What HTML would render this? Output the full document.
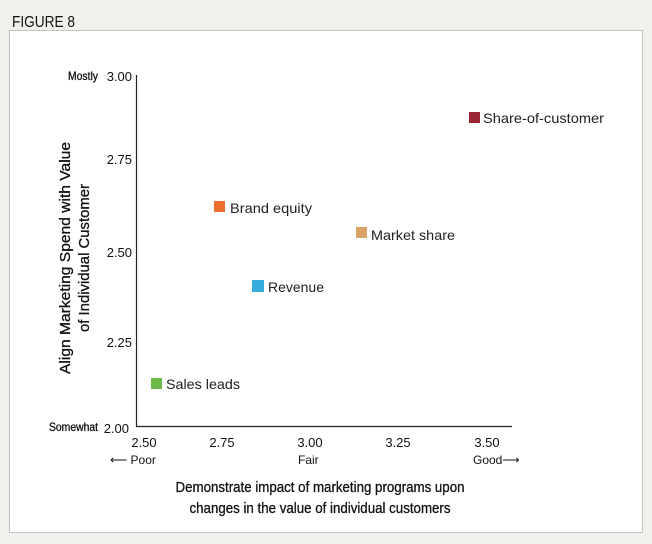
<!DOCTYPE html>
<html><head><style>
body{margin:0;background:#f1f0ec;}
svg{display:block}
</style></head><body>
<svg width="652" height="544" xmlns="http://www.w3.org/2000/svg" font-family="Liberation Sans, sans-serif">
<rect width="652" height="544" fill="#f1f0ec"/>
<text x="12" y="27" font-size="16" fill="#111" textLength="63" lengthAdjust="spacingAndGlyphs">FIGURE 8</text>
<rect x="9.5" y="30.5" width="633" height="502" fill="#fff" stroke="#c4c4c4"/>
<line x1="136.5" y1="75" x2="136.5" y2="427" stroke="#222" stroke-width="1.2"/>
<line x1="136" y1="426.5" x2="512" y2="426.5" stroke="#222" stroke-width="1.2"/>
<g font-size="13" fill="#111" text-anchor="end">
<text x="132" y="81">3.00</text>
<text x="132" y="164">2.75</text>
<text x="132" y="257">2.50</text>
<text x="132" y="347">2.25</text>
<text x="129" y="433">2.00</text>
</g>
<g font-size="12" fill="#111" stroke="#111" stroke-width="0.3">
<text x="68" y="80" textLength="30" lengthAdjust="spacingAndGlyphs">Mostly</text>
<text x="49" y="431" textLength="49" lengthAdjust="spacingAndGlyphs">Somewhat</text>
</g>
<g font-size="13" fill="#111" text-anchor="middle">
<text x="144" y="447">2.50</text>
<text x="222" y="447">2.75</text>
<text x="310" y="447">3.00</text>
<text x="398" y="447">3.25</text>
<text x="487" y="447">3.50</text>
</g>
<g font-size="12" fill="#111">
<text x="110" y="464">⟵ Poor</text>
<text x="298" y="464">Fair</text>
<text x="473" y="464">Good⟶</text>
</g>
<g stroke="#111" stroke-width="0.3" fill="#111">
<text transform="translate(70,258) rotate(-90)" font-size="15" text-anchor="middle" textLength="232" lengthAdjust="spacingAndGlyphs">Align Marketing Spend with Value</text>
<text transform="translate(89,258) rotate(-90)" font-size="15" text-anchor="middle" textLength="148" lengthAdjust="spacingAndGlyphs">of Individual Customer</text>
<text x="320" y="492" font-size="15" text-anchor="middle" textLength="289" lengthAdjust="spacingAndGlyphs">Demonstrate impact of marketing programs upon</text>
<text x="320" y="513" font-size="15" text-anchor="middle" textLength="261" lengthAdjust="spacingAndGlyphs">changes in the value of individual customers</text>
</g>
<g font-size="14" fill="#222">
<rect x="469" y="112" width="11" height="11" fill="#9b2437"/>
<text x="483" y="123" textLength="121" lengthAdjust="spacingAndGlyphs">Share-of-customer</text>
<rect x="214" y="201" width="11" height="11" fill="#ec6f2d"/>
<text x="230" y="213" textLength="82" lengthAdjust="spacingAndGlyphs">Brand equity</text>
<rect x="356" y="227" width="11" height="11" fill="#dba265"/>
<text x="371" y="240" textLength="84" lengthAdjust="spacingAndGlyphs">Market share</text>
<rect x="252" y="280" width="12" height="12" fill="#36acdc"/>
<text x="268" y="292" textLength="56" lengthAdjust="spacingAndGlyphs">Revenue</text>
<rect x="151" y="378" width="11" height="11" fill="#6cbb4a"/>
<text x="166" y="389" textLength="74" lengthAdjust="spacingAndGlyphs">Sales leads</text>
</g>
</svg>
</body></html>
